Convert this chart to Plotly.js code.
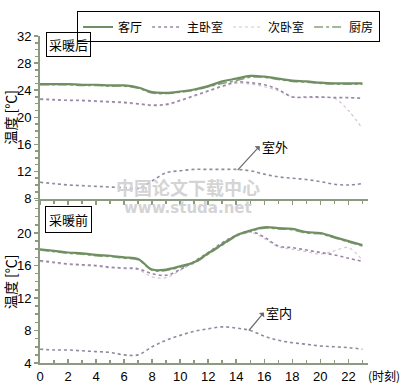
<!DOCTYPE html>
<html><head><meta charset="utf-8">
<script src="https://cdn.plot.ly/plotly-3.0.1.min.js"></script>
<style>body{margin:0;background:#fff}#c{width:404px;height:389px}</style>
</head><body><div id="c"></div>
<script>
const hours = [0,1,2,3,4,5,6,7,8,9,10,11,12,13,14,15,16,17,18,19,20,21,22,23];
// 采暖后 (top panel)
const afterLiving  = [24.9,24.9,24.9,24.8,24.8,24.7,24.7,24.4,23.7,23.6,23.8,24.1,24.6,25.3,25.7,26.1,26.0,25.7,25.4,25.3,25.1,25.0,25.0,25.0];
const afterMaster  = [22.7,22.6,22.5,22.5,22.4,22.3,22.2,22.0,21.8,21.9,22.5,23.2,23.9,24.6,25.2,25.1,24.8,24.1,23.0,23.0,23.0,22.9,22.9,22.8];
const afterSecond  = [22.6,22.5,22.5,22.4,22.3,22.2,22.1,21.9,21.7,21.8,22.4,23.1,23.8,24.5,25.0,24.9,24.5,23.9,23.0,22.9,22.9,22.8,21.0,18.3];
const afterKitchen = [24.8,24.8,24.8,24.7,24.7,24.6,24.6,24.3,23.6,23.5,23.7,24.0,24.5,25.0,25.4,25.9,25.9,25.6,25.3,25.2,25.0,24.9,24.9,24.9];
const afterOutdoor = [10.4,10.2,10.0,9.9,9.8,9.7,9.6,9.5,10.6,11.8,12.1,12.3,12.3,12.3,12.3,12.1,11.6,11.2,11.0,10.8,10.5,10.1,10.0,10.2];
// 采暖前 (bottom panel)
const beforeLiving  = [18.0,17.8,17.6,17.5,17.3,17.2,17.0,16.8,15.5,15.5,15.9,16.4,17.5,18.6,19.7,20.3,20.7,20.6,20.5,20.1,20.0,19.5,19.0,18.5];
const beforeMaster  = [16.6,16.4,16.2,16.1,16.0,15.8,15.7,15.6,15.0,14.8,15.5,16.5,17.6,18.8,19.7,20.2,19.5,18.4,18.2,17.9,17.6,17.3,16.9,16.5];
const beforeSecond  = [16.5,16.3,16.1,16.0,15.9,15.7,15.6,15.5,14.6,14.5,15.4,16.4,17.5,18.7,19.6,20.1,19.3,18.3,18.0,17.7,17.4,17.8,18.2,16.6];
const beforeKitchen = [17.9,17.7,17.5,17.4,17.2,17.1,16.9,16.7,15.4,15.4,15.8,16.3,17.4,18.5,19.6,20.2,20.6,20.5,20.4,20.0,19.9,19.4,18.9,18.4];
const beforeIndoor  = [5.7,5.6,5.6,5.5,5.4,5.3,5.0,5.0,6.0,6.8,7.4,7.9,8.2,8.45,8.3,8.0,7.3,6.8,6.5,6.3,6.1,6.0,5.9,5.7];

const names = ['客厅','主卧室','次卧室','厨房'];
const colors = ['#6f8f62','#9a86a6','#cfc6d6','#8aa07a'];
const dashes = ['solid','dot','dot','dashdot'];
const widths = [2.2,1.6,1.2,1.6];
const topSeries = [afterLiving, afterMaster, afterSecond, afterKitchen];
const botSeries = [beforeLiving, beforeMaster, beforeSecond, beforeKitchen];

const traces = [];
[3,2,1,0].forEach(i=>{
  traces.push({x:hours,y:topSeries[i],xaxis:'x2',yaxis:'y2',type:'scatter',mode:'lines',
    name:names[i],legendgroup:names[i],showlegend:false,legendrank:i+1,
    line:{color:colors[i],width:widths[i],dash:dashes[i],shape:'spline'}});
  traces.push({x:hours,y:botSeries[i],xaxis:'x',yaxis:'y',type:'scatter',mode:'lines',
    name:names[i],legendgroup:names[i],showlegend:true,legendrank:i+1,
    line:{color:colors[i],width:widths[i],dash:dashes[i],shape:'spline'}});
});
traces.push({x:hours,y:afterOutdoor,xaxis:'x2',yaxis:'y2',type:'scatter',mode:'lines',showlegend:false,
  line:{color:'#8f8a9c',width:1.6,dash:'dot',shape:'spline'}});
traces.push({x:hours,y:beforeIndoor,xaxis:'x',yaxis:'y',type:'scatter',mode:'lines',showlegend:false,
  line:{color:'#8f8a9c',width:1.6,dash:'dot',shape:'spline'}});

const axisCol = '#8c9a80';
const tickFont = {family:'Liberation Sans, Arial, sans-serif',size:13,color:'#000'};
const xTicks = [0,2,4,6,8,10,12,14,16,18,20,22];
const common = {showgrid:false,zeroline:false,showline:true,linecolor:axisCol,linewidth:2,
  tickcolor:axisCol,tickwidth:1.5,ticklen:4};

const layout = {
  width:404,height:389,paper_bgcolor:'#fff',plot_bgcolor:'#fff',
  margin:{l:40,r:36,t:27,b:26},
  font:{family:'Noto Sans CJK SC, sans-serif',size:13,color:'#000'},
  xaxis:Object.assign({},common,{domain:[0,1],range:[0,23.4],anchor:'y',tickvals:xTicks,ticks:'inside',
    tickfont:tickFont,minor:{dtick:1,ticks:'inside',ticklen:3,tickcolor:axisCol}}),
  xaxis2:Object.assign({},common,{domain:[0,1],range:[0,23.4],anchor:'y2',matches:'x',tickvals:xTicks,ticks:'outside',
    showticklabels:false,minor:{dtick:1,ticks:'outside',ticklen:3,tickcolor:axisCol}}),
  yaxis:Object.assign({},common,{domain:[0,0.497],range:[4,24],anchor:'x',tickvals:[4,8,12,16,20],ticks:'outside',
    tickfont:tickFont,minor:{dtick:1,ticks:'outside',ticklen:3,tickcolor:axisCol},
    title:{text:'温度 [℃]',font:{size:14},standoff:6}}),
  yaxis2:Object.assign({},common,{domain:[0.503,1],range:[8,32],anchor:'x2',tickvals:[8,12,16,20,24,28,32],ticks:'outside',
    tickfont:tickFont,minor:{dtick:1,ticks:'outside',ticklen:3,tickcolor:axisCol},
    title:{text:'温度 [℃]',font:{size:14},standoff:6}}),
  legend:{orientation:'h',x:0.113,xanchor:'left',y:1.075,yanchor:'top',bordercolor:'#000',borderwidth:1,
    font:{size:12},bgcolor:'#fff',traceorder:'normal',itemwidth:30,tracegroupgap:0},
  annotations:[
    {xref:'x2',yref:'y2',x:2.0,y:30.8,text:'采暖后',showarrow:false,bordercolor:'#000',borderwidth:1,borderpad:2,font:{size:13}},
    {xref:'x',yref:'y',x:2.0,y:21.6,text:'采暖前',showarrow:false,bordercolor:'#000',borderwidth:1,borderpad:3,font:{size:13}},
    {xref:'x2',yref:'y2',x:14.1,y:12.2,ax:22,ay:-24,axref:'pixel',ayref:'pixel',text:'室外',showarrow:true,arrowside:'start',
      arrowhead:2,arrowsize:1,arrowwidth:1.2,arrowcolor:'#6a6a6a',xanchor:'left',yanchor:'middle',font:{size:13}},
    {xref:'x',yref:'y',x:14.9,y:8.0,ax:15,ay:-18,axref:'pixel',ayref:'pixel',text:'室内',showarrow:true,arrowside:'start',
      arrowhead:2,arrowsize:1,arrowwidth:1.2,arrowcolor:'#6a6a6a',xanchor:'left',yanchor:'middle',font:{size:13}},
    {xref:'paper',yref:'paper',x:0.994,y:-0.039,text:'(时刻)',showarrow:false,xanchor:'left',yanchor:'middle',font:{size:12}},
    {xref:'paper',yref:'paper',x:0.45,y:0.538,text:'<b>中国论文下载中心</b>',showarrow:false,font:{size:18,color:'#d4d4d4'}},
    {xref:'paper',yref:'paper',x:0.45,y:0.474,text:'<b>www.studa.net</b>',showarrow:false,font:{family:'DejaVu Sans, sans-serif',size:15,color:'#d4d4d4'}}
  ]
};
Plotly.newPlot('c',traces,layout,{displayModeBar:false,staticPlot:true});
</script></body></html>
